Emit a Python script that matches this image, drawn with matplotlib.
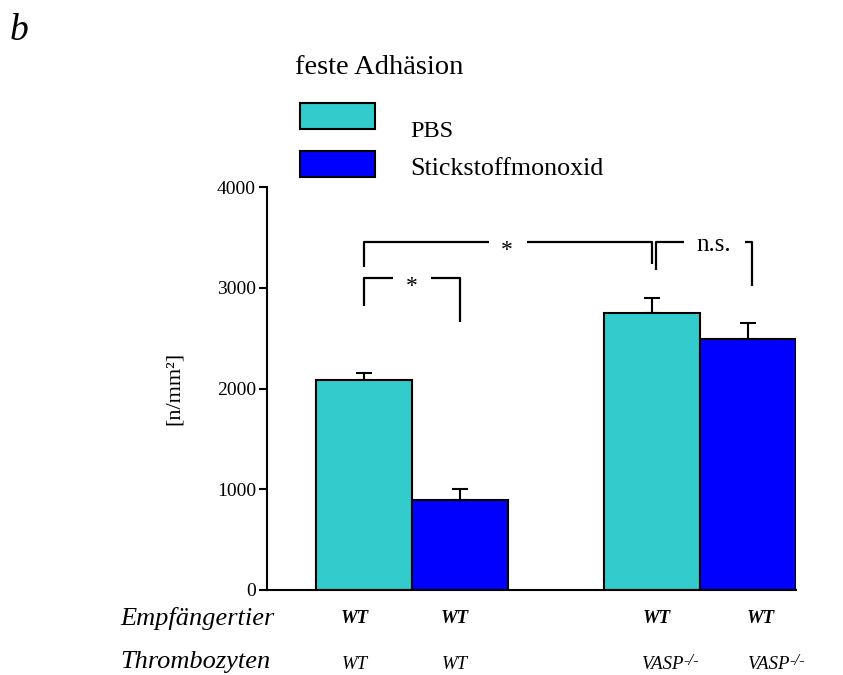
import matplotlib
matplotlib.use("Agg")
import matplotlib.pyplot as plt
from matplotlib.patches import Rectangle

# ---- data ----
conditions = ["PBS", "Stickstoffmonoxid"]
recipient = ["WT", "WT", "WT", "WT"]
platelets = ["WT", "WT", "VASP", "VASP"]
treatment = ["PBS", "Stickstoffmonoxid", "PBS", "Stickstoffmonoxid"]
means = [2085, 893, 2750, 2490]
errors = [68, 110, 148, 160]
yticks = [0, 1000, 2000, 3000, 4000]

colors = {"PBS": "#33CCCC", "Stickstoffmonoxid": "#0000FF"}
positions = [0, 1, 3, 4]
label_x1 = [-0.1, 0.95, 3.05, 4.13]
label_x2 = [-0.1, 0.95, 3.11, 4.21]

plt.rcParams['font.family'] = ['Liberation Serif', 'DejaVu Serif']

fig = plt.figure(figsize=(8.43, 6.75), dpi=100)
W, H = 843, 675
ax = fig.add_axes([267 / W, 1 - 590 / H, (796 - 267) / W, (590 - 187) / H])

bar_colors = [colors[t] for t in treatment]
ax.bar(positions, means, width=1.0, color=bar_colors, edgecolor='black',
       linewidth=1.5, zorder=2)
ax.errorbar(positions, means, yerr=[[0] * 4, errors], fmt='none', ecolor='black',
            elinewidth=1.5, capsize=5.5, capthick=1.5, zorder=1)

ax.set_xlim(-1.01, 4.5)
ax.set_ylim(0, 4000)
ax.set_yticks(yticks)
ax.set_yticklabels([str(v) for v in yticks], fontsize=14)
ax.set_xticks([])
for s in ['top', 'right']:
    ax.spines[s].set_visible(False)
for s in ['left', 'bottom']:
    ax.spines[s].set_linewidth(1.5)
ax.tick_params(axis='y', direction='out', length=6, width=1.5, pad=2)
ax.set_ylabel("[n/mm²]", fontsize=16, labelpad=24)

# significance brackets
lw = 1.6
def seg(xs, ys):
    ax.plot(xs, ys, color='black', lw=lw, clip_on=False, solid_capstyle='butt')

# big bracket WT vs VASP
top = 3454
seg([0, 0, 1.3], [3206, top, top])
seg([1.7, 3.0, 3.0], [top, top, 3236])
ax.text(1.49, top - 80, "*", ha='center', va='center', fontsize=17)
# n.s. bracket
seg([3.04, 3.04, 3.33], [3176, top, top])
seg([3.97, 4.04, 4.04], [top, top, 3017])
ax.text(3.64, top - 25, "n.s.", ha='center', va='center', fontsize=18)
# small bracket
top2 = 3097
seg([0, 0, 0.3], [2819, top2, top2])
seg([0.7, 1.0, 1.0], [top2, top2, 2660])
ax.text(0.5, top2 - 80, "*", ha='center', va='center', fontsize=17)

# row labels
fig.text(120 / W, 1 - 618 / H, "Empfängertier", fontsize=19, style='italic',
         ha='left', va='center')
fig.text(120 / W, 1 - 662 / H, "Thrombozyten", fontsize=19, style='italic',
         ha='left', va='center')
for x1, x2, r, t in zip(label_x1, label_x2, recipient, platelets):
    ax.text(x1, -280, r, fontsize=13.5, style='italic', weight='bold',
            ha='center', va='center')
    txt = ax.text(x2, -740, t, fontsize=13.5, style='italic',
                  ha='center', va='center')
    if t == "VASP":
        ax.annotate("-/-", xy=(1.0, 1.0), xycoords=txt, xytext=(0, 2),
                    textcoords='offset points', fontsize=12, style='italic',
                    ha='left', va='top')

# title and legend
fig.text(10 / W, 1 - 31 / H, "b", fontsize=27, style='italic', ha='left', va='center')
fig.text(295 / W, 1 - 67 / H, "feste Adhäsion", fontsize=20.5, ha='left', va='center')
for i, c in enumerate(conditions):
    y0 = [129, 177][i]
    fig.patches.append(Rectangle((300 / W, 1 - y0 / H), 75 / W, 26 / H,
                                 transform=fig.transFigure, facecolor=colors[c],
                                 edgecolor='black', linewidth=1.5))
fig.text(410 / W, 1 - 137 / H, conditions[0], fontsize=17.5, ha='left', va='baseline')
fig.text(410 / W, 1 - 175 / H, conditions[1], fontsize=18.7, ha='left', va='baseline')

fig.savefig("out.png", dpi=100)
